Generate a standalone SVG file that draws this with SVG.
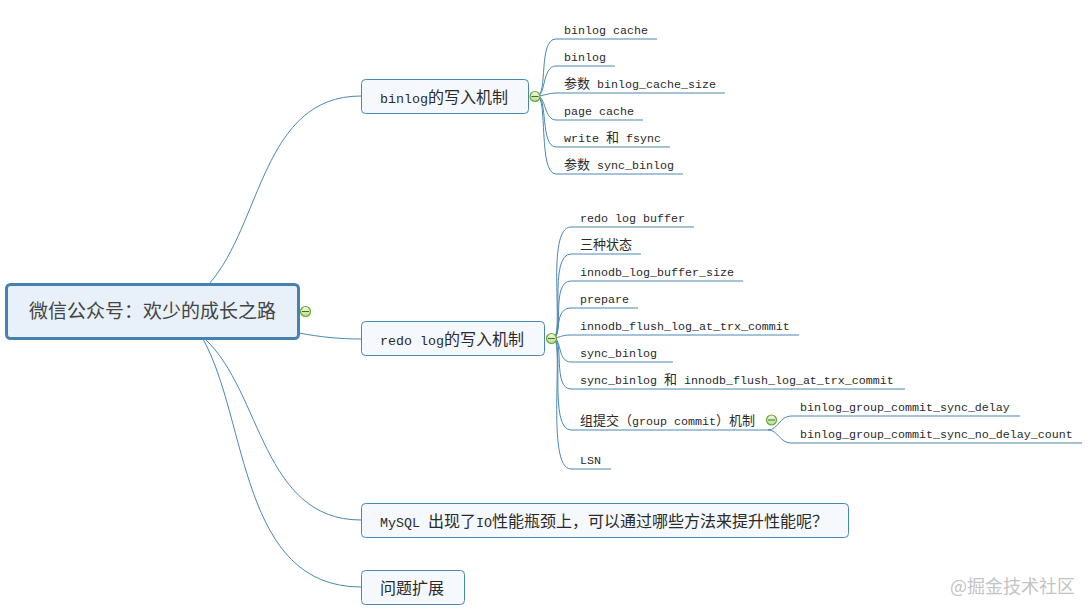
<svg xmlns="http://www.w3.org/2000/svg" width="1092" height="615" viewBox="0 0 1092 615">
<style>
text{font-family:"Liberation Mono","Noto Sans CJK SC",monospace;fill:#2a2a2a;}
.s{font-size:11.67px}
.s .c{font-size:13px}
.m{font-size:13.33px}
.m .c{font-size:16px}
.c{font-family:"Noto Sans CJK SC","Liberation Sans",sans-serif}
.box{fill:#f5f9fd;stroke:#4a88b4;stroke-width:1}
.link{fill:none;stroke:#4a88b4;stroke-width:1}
.tog{fill:url(#tg);stroke:#6aa82a;stroke-width:1.2}
.dash{stroke:#4a6a3a;stroke-width:1}
</style>
<defs>
<linearGradient id="tg" x1="0" y1="0" x2="0" y2="1"><stop offset="0" stop-color="#f2f8e8"/><stop offset="1" stop-color="#b9dc90"/></linearGradient>
</defs>
<rect width="1092" height="615" fill="#fff"/>
<g id="connectors">
<path class="link" d="M209 284C262 224 262 96 361 96"/>
<path class="link" d="M299 333C320 337 340 339 361 339"/>
<path class="link" d="M205 339C262 392 262 520 361 520"/>
<path class="link" d="M203 339C248 420 240 587 361 587"/>
<path class="link" d="M537 96C548 96 538 39 556 39H657"/>
<path class="link" d="M537 96C546 96 542 66 556 66H615"/>
<path class="link" d="M537 96C544 96 548 93 556 93H725"/>
<path class="link" d="M537 96C546 96 544 120 556 120H643"/>
<path class="link" d="M537 96C548 96 540 147 556 147H670"/>
<path class="link" d="M537 96C548 96 538 174 556 174H683"/>
<path class="link" d="M553 338C565 338 545 227 571 227H694"/>
<path class="link" d="M553 338C565 338 548 254 571 254H641"/>
<path class="link" d="M553 338C565 338 550 281 571 281H743"/>
<path class="link" d="M553 338C562 338 553 308 571 308H638"/>
<path class="link" d="M553 338C560 338 560 335 571 335H799"/>
<path class="link" d="M553 338C562 338 557 362 571 362H673"/>
<path class="link" d="M553 338C565 338 552 389 571 389H905"/>
<path class="link" d="M553 338C565 338 548 430 571 430H768"/>
<path class="link" d="M553 338C565 338 545 469 571 469H611"/>
<path class="link" d="M768 430C778 430 780 416 791 416H1020"/>
<path class="link" d="M768 430C778 430 780 443 791 443H1082"/>
</g>
<g id="root">
<rect x="6.5" y="284.5" width="292" height="54" rx="4" fill="#e8f1fa" stroke="#4682b0" stroke-width="3"/>
<text x="29" y="318" font-size="19" class="c" style="fill:#444">微信公众号：欢少的成长之路</text>
<circle class="tog" cx="305.5" cy="311.5" r="5"/><path class="dash" d="M302 311.5h7"/>
</g>
<g id="node-binlog">
<rect class="box" x="361.5" y="79.5" width="167" height="34" rx="4"/>
<text class="m" x="380" y="103">binlog<tspan class="c">的写入机制</tspan></text>
<circle class="tog" cx="535" cy="96.5" r="5"/><path class="dash" d="M531.5 96.5h7"/>
</g>
<g id="node-redo">
<rect class="box" x="361.5" y="321.5" width="183" height="34" rx="4"/>
<text class="m" x="380" y="345">redo log<tspan class="c">的写入机制</tspan></text>
<circle class="tog" cx="551.5" cy="338.5" r="5"/><path class="dash" d="M548 338.5h7"/>
</g>
<g id="node-mysql">
<rect class="box" x="361.5" y="503.5" width="487" height="34" rx="4"/>
<text class="m" x="380" y="527">MySQL <tspan class="c">出现了</tspan>IO<tspan class="c">性能瓶颈上，可以通过哪些方法来提升性能呢？</tspan></text>
</g>
<g id="node-extend">
<rect class="box" x="361.5" y="570.5" width="103" height="34" rx="4"/>
<text class="m" x="380" y="594"><tspan class="c">问题扩展</tspan></text>
</g>
<g id="leaf-binlog">
<text class="s" x="564" y="34">binlog cache</text>
<text class="s" x="564" y="61">binlog</text>
<text class="s" x="564" y="88"><tspan class="c">参数</tspan> binlog_cache_size</text>
<text class="s" x="564" y="115">page cache</text>
<text class="s" x="564" y="142">write <tspan class="c">和</tspan> fsync</text>
<text class="s" x="564" y="169"><tspan class="c">参数</tspan> sync_binlog</text>
</g>
<g id="leaf-redo">
<text class="s" x="580" y="222">redo log buffer</text>
<text class="s" x="580" y="249"><tspan class="c">三种状态</tspan></text>
<text class="s" x="580" y="276">innodb_log_buffer_size</text>
<text class="s" x="580" y="303">prepare</text>
<text class="s" x="580" y="330">innodb_flush_log_at_trx_commit</text>
<text class="s" x="580" y="357">sync_binlog</text>
<text class="s" x="580" y="384">sync_binlog <tspan class="c">和</tspan> innodb_flush_log_at_trx_commit</text>
<text class="s" x="580" y="425"><tspan class="c">组提交（</tspan>group commit<tspan class="c">）机制</tspan></text>
<text class="s" x="580" y="464">LSN</text>
<circle class="tog" cx="771.5" cy="420" r="5"/><path class="dash" d="M768 420h7"/>
</g>
<g id="leaf-group">
<text class="s" x="800" y="411">binlog_group_commit_sync_delay</text>
<text class="s" x="800" y="438">binlog_group_commit_sync_no_delay_count</text>
</g>
<text x="950" y="593" font-size="18" class="c" style="fill:#c4c4c4">@掘金技术社区</text>
</svg>
